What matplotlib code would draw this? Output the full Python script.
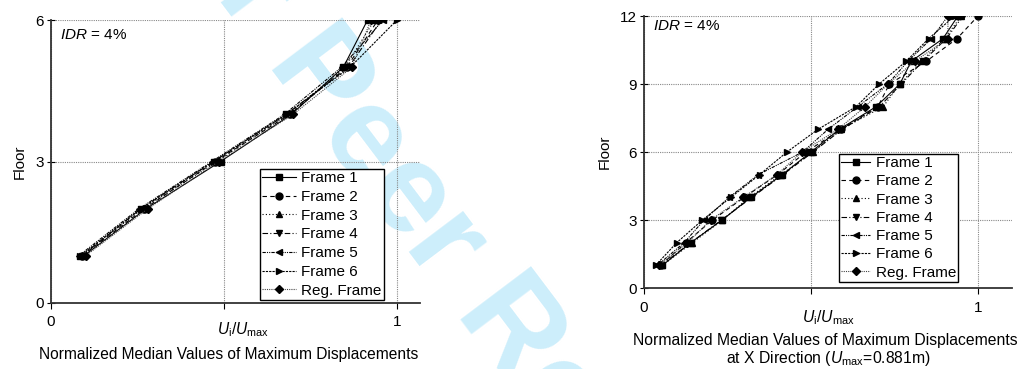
import matplotlib
matplotlib.use("Agg")
import matplotlib.pyplot as plt

plt.rcParams['font.family'] = ['Liberation Sans', 'DejaVu Sans']
plt.rcParams['mathtext.fontset'] = 'custom'
plt.rcParams['mathtext.rm'] = 'Liberation Sans'
plt.rcParams['mathtext.it'] = 'Liberation Sans:italic'

# Normalized median displacement per floor, 6-storey building
floors_6 = [1, 2, 3, 4, 5, 6]
f1_6 = [0.095, 0.275, 0.490, 0.695, 0.845, 0.915]
f2_6 = [0.090, 0.270, 0.475, 0.690, 0.855, 0.945]
f3_6 = [0.085, 0.265, 0.480, 0.685, 0.850, 0.935]
f4_6 = [0.090, 0.260, 0.470, 0.680, 0.860, 0.955]
f5_6 = [0.080, 0.255, 0.465, 0.675, 0.840, 0.960]
f6_6 = [0.085, 0.260, 0.470, 0.680, 0.865, 1.000]
reg_6 = [0.100, 0.280, 0.485, 0.700, 0.870, 0.925]

# Normalized median displacement per floor, 12-storey building
floors_12 = list(range(1, 13))
f1_12 = [0.055, 0.140, 0.234, 0.320, 0.414, 0.500, 0.585, 0.695, 0.766, 0.800, 0.895, 0.940]
f2_12 = [0.050, 0.125, 0.205, 0.300, 0.400, 0.485, 0.590, 0.700, 0.735, 0.845, 0.937, 1.000]
f3_12 = [0.055, 0.145, 0.235, 0.315, 0.410, 0.505, 0.590, 0.716, 0.766, 0.830, 0.900, 0.950]
f4_12 = [0.050, 0.140, 0.232, 0.323, 0.416, 0.506, 0.593, 0.705, 0.770, 0.835, 0.905, 0.955]
f5_12 = [0.040, 0.120, 0.180, 0.255, 0.342, 0.475, 0.551, 0.640, 0.730, 0.790, 0.860, 0.910]
f6_12 = [0.035, 0.098, 0.175, 0.260, 0.346, 0.428, 0.521, 0.635, 0.704, 0.785, 0.852, 0.930]
reg_12 = [0.045, 0.130, 0.200, 0.297, 0.398, 0.473, 0.581, 0.662, 0.731, 0.810, 0.910, 0.910]

labels = ['Frame 1', 'Frame 2', 'Frame 3', 'Frame 4', 'Frame 5', 'Frame 6', 'Reg. Frame']
series_6 = [f1_6, f2_6, f3_6, f4_6, f5_6, f6_6, reg_6]
series_12 = [f1_12, f2_12, f3_12, f4_12, f5_12, f6_12, reg_12]

estilos = [
    {'ls': '-', 'marker': 's', 'color': 'black', 'ms': 4.5},
    {'ls': (0, (4, 3)), 'marker': 'o', 'color': 'black', 'ms': 5},
    {'ls': (0, (1, 2)), 'marker': '^', 'color': 'black', 'ms': 5},
    {'ls': (0, (5, 2, 1, 2)), 'marker': 'v', 'color': 'black', 'ms': 5},
    {'ls': (0, (3, 1, 1, 1, 1, 1)), 'marker': '<', 'color': 'black', 'ms': 5},
    {'ls': (0, (2, 1)), 'marker': '>', 'color': 'black', 'ms': 5},
    {'ls': (0, (1, 1)), 'marker': 'D', 'color': '#444444', 'ms': 4.5},
]

W, H = 1027, 369
fig = plt.figure(figsize=(W / 100, H / 100), dpi=100)


def px(x, y):
    return x / W, 1 - y / H


# watermark behind the plots
fig.text(0.435, 0.33, 'For Peer Review', rotation=-53, fontsize=92,
         fontweight='bold', color='#cdeefb', ha='center', va='center', zorder=-5)


def panel(rect, floors, series, ymax, xmax, leg_anchor, idr_pos, spacing, hlen):
    ax = fig.add_axes(rect)
    ax.patch.set_visible(False)
    for vals, lab, st in zip(series, labels, estilos):
        ax.plot(vals, floors, linestyle=st['ls'], marker=st['marker'],
                color=st['color'], markerfacecolor='black', markeredgecolor='black',
                markersize=st['ms'], linewidth=0.8, label=lab)
    ax.set_xlim(0, xmax)
    ax.set_ylim(0, ymax)
    ax.set_xticks([0, 0.5, 1])
    ax.set_xticklabels(['0', '', '1'])
    ax.set_yticks(range(0, ymax + 1, 3))
    ax.grid(True, linestyle=(0, (1, 1)), color='#888888', linewidth=0.8)
    for s in ['top', 'right']:
        ax.spines[s].set_visible(False)
    for s in ['left', 'bottom']:
        ax.spines[s].set_linewidth(1.3)
        ax.spines[s].set_color('#333333')
    ax.tick_params(axis='y', direction='inout', length=6, labelsize=11, pad=2)
    ax.tick_params(axis='x', direction='out', length=4, labelsize=11, pad=5)
    ax.set_ylabel('Floor', fontsize=11, labelpad=6)
    ax.text(idr_pos[0], idr_pos[1], '$IDR$ = 4%', transform=ax.transAxes,
            fontsize=11, ha='left', va='center')
    leg = ax.legend(loc='lower left', bbox_to_anchor=leg_anchor, fontsize=11,
                    fancybox=False, framealpha=1, edgecolor='black',
                    handlelength=hlen, handletextpad=0.35, labelspacing=spacing,
                    borderpad=0.15, borderaxespad=0)
    leg.get_frame().set_linewidth(1.0)
    return ax


ax1 = panel([51 / W, 1 - 303 / H, 369 / W, 283 / H], floors_6, series_6, 6,
            369 / 346, (0.566, 0.011), (0.024, 0.947), 0.31, 2.2)
ax2 = panel([644 / W, 1 - 288 / H, 368 / W, 272 / H], floors_12, series_12, 12,
            368 / 334, (0.53, 0.022), (0.024, 0.963), 0.28, 1.9)

# axis titles below each panel
fig.text(*px(243, 330), '$U_\\mathrm{i}/U_\\mathrm{max}$', fontsize=11.2, ha='center', va='center')
fig.text(*px(229, 355), 'Normalized Median Values of Maximum Displacements',
         fontsize=11.2, ha='center', va='center')
fig.text(*px(243, 376), 'at X Direction ($U_\\mathrm{max}$=0.881m)',
         fontsize=11.2, ha='center', va='center')

fig.text(*px(828, 318), '$U_\\mathrm{i}/U_\\mathrm{max}$', fontsize=11.3, ha='center', va='center')
fig.text(*px(825, 340), 'Normalized Median Values of Maximum Displacements',
         fontsize=11.3, ha='center', va='center')
fig.text(*px(828, 359), 'at X Direction ($U_\\mathrm{max}$=0.881m)',
         fontsize=11.3, ha='center', va='center')

fig.savefig('out.png', dpi=100)
